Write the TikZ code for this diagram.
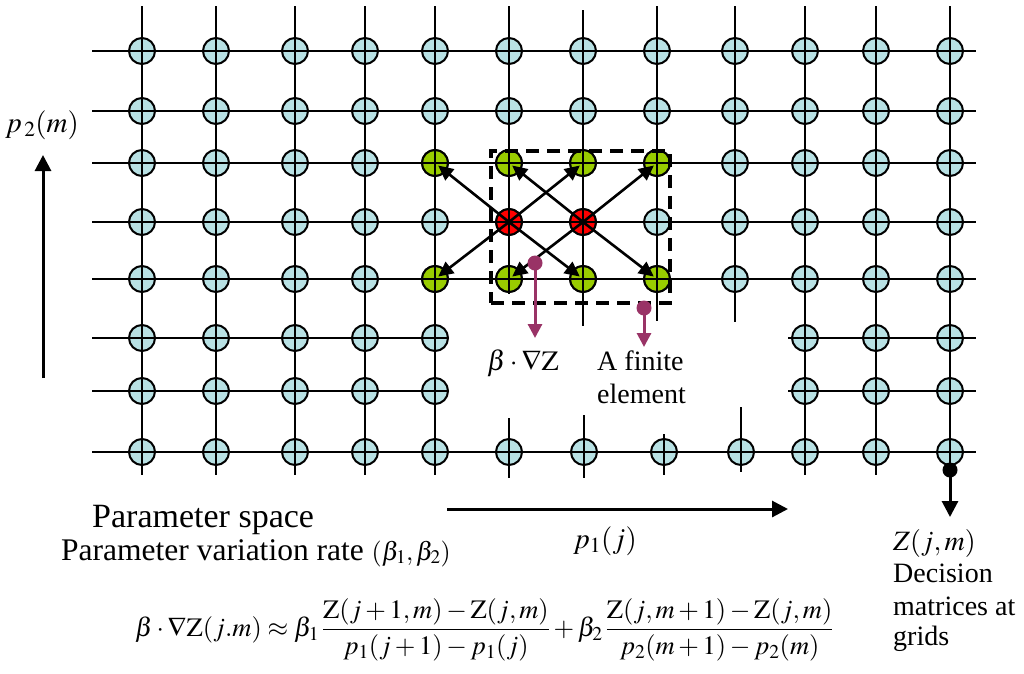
\documentclass[tikz,border=0pt]{standalone}
\usepackage{mathptmx}
\usepackage[no-math]{fontspec}
\setmainfont{Liberation Serif}
\usetikzlibrary{arrows.meta}
\definecolor{nodeblue}{RGB}{184,225,228}
\definecolor{nodegreen}{RGB}{153,204,0}
\definecolor{nodered}{RGB}{255,0,0}
\definecolor{pinpurple}{RGB}{153,51,102}
\tikzset{
  gridline/.style={line width=2pt, black},
  gnode/.style={circle, draw=black, line width=2pt, minimum size=26pt, inner sep=0pt},
  bluenode/.style={gnode, fill=nodeblue},
  greennode/.style={gnode, fill=nodegreen},
  rednode/.style={gnode, fill=nodered},
  flowarrow/.style={line width=2.6pt, -{Triangle[length=15pt,width=14pt]}, shorten >=4pt},
  pinline/.style={draw=pinpurple, line width=3pt, -{Triangle[length=14pt,width=14pt]}},
  pindot/.style={circle, fill=pinpurple, minimum size=15pt, inner sep=0pt},
  blackdot/.style={circle, fill=black, minimum size=15pt, inner sep=0pt},
  axisarrow/.style={line width=3pt, -{Triangle[length=16pt,width=16pt]}},
  txt/.style={anchor=base west, inner sep=0pt, font=\rmfamily\fontsize{28}{30}\selectfont},
  element/.style={draw=black, line width=4pt, dash pattern=on 13pt off 8pt, inner sep=0pt},
}
\begin{document}
\begin{tikzpicture}[x=1pt,y=-1pt]
\useasboundingbox (0,0) rectangle (1024,673);

% ---- grid nodes ----
\foreach \c/\x in {1/142,2/216,3/295,4/365,5/435,6/509,7/583,8/657,9/735,10/805,11/876,12/950}{
  \foreach \r/\y in {1/51,2/111,3/163,4/222,5/279}{
    \node[bluenode] (n-\c-\r) at (\x,\y) {};
  }
}
\foreach \c/\x in {1/142,2/216,3/295,4/365,5/435,10/805,11/876,12/950}{
  \foreach \r/\y in {6/338,7/391}{
    \node[bluenode] (n-\c-\r) at (\x,\y) {};
  }
}
\foreach \c/\x in {1/142,2/216,3/295,4/365,5/435,6/509,7/584,8/664,9/741,10/805,11/876,12/950}{
  \node[bluenode] (n-\c-8) at (\x,452) {};
}
\foreach \c/\x in {5/435,6/509,7/583,8/657}{
  \node[greennode] (n-\c-3) at (\x,163) {};
  \node[greennode] (n-\c-5) at (\x,279) {};
}
\node[rednode] (n-6-4) at (509,222) {};
\node[rednode] (n-7-4) at (583,222) {};

% ---- grid lines ----
\foreach \y in {51,111,163,222,279,452}{
  \draw[gridline] (92,\y) -- (976,\y);
}
\foreach \y in {338,391}{
  \draw[gridline] (92,\y) -- (448,\y);
  \draw[gridline] (788,\y) -- (976,\y);
}
\foreach \x in {142,216,295,365,435,805,876,950}{
  \draw[gridline] (\x,6) -- (\x,475);
}
\draw[gridline] (509,6) -- (509,294);
\draw[gridline] (509,418) -- (509,478);
\draw[gridline] (583,10) -- (583,326);
\draw[gridline] (584,415) -- (584,478);
\draw[gridline] (657,6) -- (657,321);
\draw[gridline] (664,434) -- (664,475);
\draw[gridline] (735,6) -- (735,322);
\draw[gridline] (741,407) -- (741,472);

% ---- finite element arrows ----
\draw[flowarrow] (n-6-4.center) -- (n-5-3.center);
\draw[flowarrow] (n-6-4.center) -- (n-7-3.center);
\draw[flowarrow] (n-6-4.center) -- (n-5-5.center);
\draw[flowarrow] (n-6-4.center) -- (n-7-5.center);
\draw[flowarrow] (n-7-4.center) -- (n-6-3.center);
\draw[flowarrow] (n-7-4.center) -- (n-8-3.center);
\draw[flowarrow] (n-7-4.center) -- (n-6-5.center);
\draw[flowarrow] (n-7-4.center) -- (n-8-5.center);

% ---- dashed finite element ----
\node[element, minimum width=179pt, minimum height=152pt] (fe) at (580.5,227) {};

% ---- pins ----
\node[pindot] (pin1) at (535,263) {};
\coordinate (pin1end) at (535,338);
\draw[pinline] (pin1.center) -- (pin1end);
\node[pindot] (pin2) at (644,308) {};
\coordinate (pin2end) at (644,347);
\draw[pinline] (pin2.center) -- (pin2end);

\node[blackdot] (zdot) at (950,470) {};
\coordinate (zend) at (950,517);
\draw[axisarrow] (zdot.center) -- (zend);

% ---- axes ----
\coordinate (ya) at (43,378);
\coordinate (yb) at (43,155);
\draw[axisarrow] (ya) -- (yb);
\coordinate (xa) at (447,509);
\coordinate (xb) at (788,509);
\draw[axisarrow] (xa) -- (xb);

% ---- labels ----
\node[txt, font=\rmfamily\fontsize{29}{31}\selectfont] (lp2) at (5,132) {$p_{\,2}(m)$};
\node[txt, font=\rmfamily\fontsize{29}{31}\selectfont] (lp1) at (573,548) {$p_1(j)$};
\node[txt] (lbeta) at (487,370) {$\beta\cdot\nabla\mathrm{Z}$};
\node[txt] (lfe1) at (597,370) {A finite};
\node[txt] (lfe2) at (597,403) {element};
\node[txt] (lz) at (893,550) {$Z(j,m)$};
\node[txt] (ld1) at (893,582) {Decision};
\node[txt] (ld2) at (893,615) {matrices at};
\node[txt] (ld3) at (893,645) {grids};
\node[txt, font=\rmfamily\fontsize{34}{36}\selectfont] (lps) at (92,527) {Parameter space};
\node[txt, font=\rmfamily\fontsize{31.5}{33}\selectfont] (lpv) at (61,560)
  {Parameter variation rate\ {\fontsize{26}{28}\selectfont$(\beta_1,\beta_2)$}};
\node[txt, font=\rmfamily\fontsize{26.5}{28}\selectfont] (lform) at (135,636)
  {$\displaystyle \beta\cdot\nabla\mathrm{Z}(j.m)\approx\beta_1\,\frac{\mathrm{Z}(j+1,m)-\mathrm{Z}(j,m)}{p_1(j+1)-p_1(j)}+\beta_2\,\frac{\mathrm{Z}(j,m+1)-\mathrm{Z}(j,m)}{p_2(m+1)-p_2(m)}$};
\end{tikzpicture}
\end{document}
